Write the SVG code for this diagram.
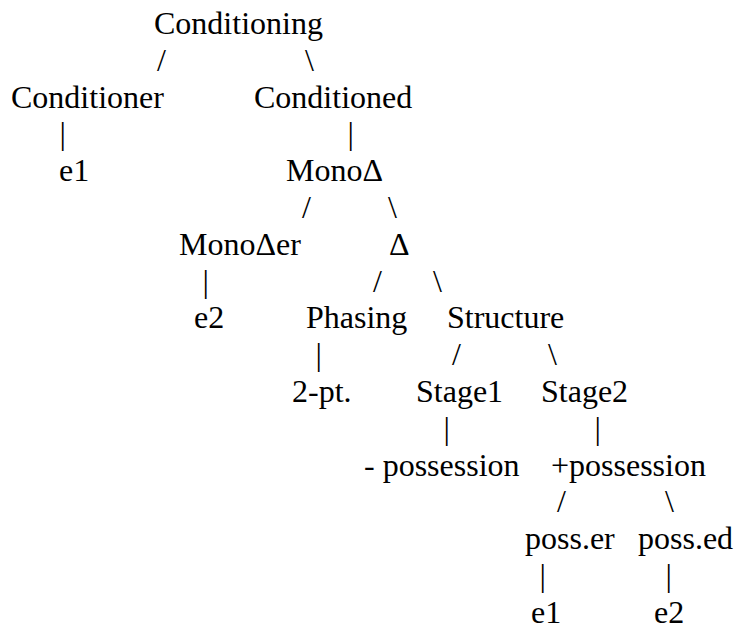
<svg xmlns="http://www.w3.org/2000/svg" width="735" height="629" viewBox="0 0 735 629" font-family="Liberation Serif, Tinos, Times New Roman, serif" font-size="32">
  <style>
    text { font-family: 'Liberation Serif', Tinos, 'Times New Roman', Times, serif; font-size: 32px; fill: #000; }
  </style>
  <rect width="735" height="629" fill="#fff"/>
  <g id="conditioning"><text x="154" y="34">Conditioning</text></g>
  <g id="conditioner"><text x="11" y="107.6">Conditioner</text></g>
  <g id="conditioned"><text x="254" y="107.6">Conditioned</text></g>
  <g id="e1-left"><text x="59" y="181.2">e1</text></g>
  <g id="mono-delta"><text x="286" y="181.2">Mono&#916;</text></g>
  <g id="mono-delta-er"><text x="179" y="254.8">Mono&#916;er</text></g>
  <g id="delta"><text x="389" y="254.8">&#916;</text></g>
  <g id="e2-left"><text x="194" y="328.4">e2</text></g>
  <g id="phasing"><text x="306" y="328.4">Phasing</text></g>
  <g id="structure"><text x="447" y="328.4">Structure</text></g>
  <g id="two-pt"><text x="292" y="402">2-pt.</text></g>
  <g id="stage1"><text x="416" y="402">Stage1</text></g>
  <g id="stage2"><text x="541" y="402">Stage2</text></g>
  <g id="minus-possession"><text x="364" y="475.6">- possession</text></g>
  <g id="plus-possession"><text x="551" y="475.6">+possession</text></g>
  <g id="poss-er"><text x="525" y="549.2">poss.er</text></g>
  <g id="poss-ed"><text x="638" y="549.2">poss.ed</text></g>
  <g id="e1-right"><text x="531" y="622.8">e1</text></g>
  <g id="e2-right"><text x="654" y="622.8">e2</text></g>
  <g id="connectors">
    <text x="157" y="70.8">/</text>
    <text x="305" y="70.8">\</text>
    <text x="59.5" y="144.4">|</text>
    <text x="347.5" y="144.4">|</text>
    <text x="302" y="218">/</text>
    <text x="388" y="218">\</text>
    <text x="202.5" y="291.6">|</text>
    <text x="373" y="291.6">/</text>
    <text x="433" y="291.6">\</text>
    <text x="315.5" y="365.2">|</text>
    <text x="452" y="365.2">/</text>
    <text x="548" y="365.2">\</text>
    <text x="443.5" y="438.8">|</text>
    <text x="594.5" y="438.8">|</text>
    <text x="557" y="512.4">/</text>
    <text x="665" y="512.4">\</text>
    <text x="539.5" y="586">|</text>
    <text x="665.5" y="586">|</text>
  </g>
</svg>
